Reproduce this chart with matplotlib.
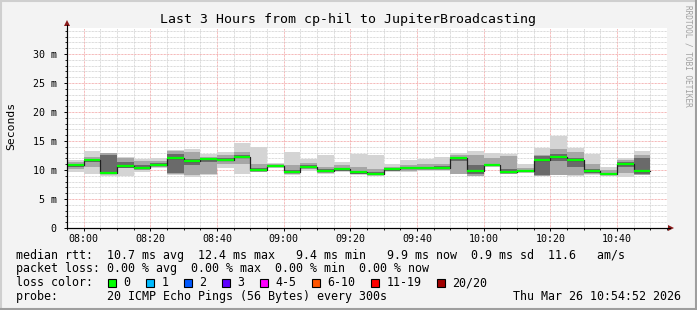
import matplotlib
matplotlib.use("Agg")
import matplotlib.pyplot as plt
from matplotlib.patches import Polygon, Rectangle
from matplotlib.ticker import FixedLocator, MultipleLocator

# ---------------- data (milliseconds, one bar per 5-minute step from 07:55) ----------------
median = [10.9, 11.7, 9.5, 10.7, 10.4, 10.9, 12.0, 11.5, 11.9, 11.8, 12.2, 10.0, 10.7, 9.6, 10.5,
          9.8, 10.1, 9.6, 9.3, 10.2, 10.4, 10.4, 10.4, 12.0, 9.8, 10.9, 9.6, 9.8, 11.8, 12.2,
          11.7, 9.8, 9.3, 11.1, 9.8]
rtt_min = [9.6, 9.3, 8.9, 8.9, 9.7, 10.4, 9.1, 8.8, 9.1, 10.3, 9.4, 9.6, 10.3, 9.2, 9.9,
           9.3, 9.6, 9.1, 8.9, 9.7, 9.7, 9.8, 9.9, 9.3, 8.9, 10.6, 9.3, 9.5, 8.9, 9.1,
           8.9, 9.1, 9.0, 8.8, 9.1]
rtt_max = [11.7, 13.2, 13.0, 12.3, 11.9, 12.1, 13.5, 13.7, 12.7, 13.1, 14.6, 13.9, 11.2, 13.1, 11.9,
           12.6, 11.3, 12.7, 12.6, 11.0, 11.7, 11.9, 12.3, 13.0, 13.2, 12.9, 12.7, 11.1, 13.8, 15.9,
           13.8, 12.7, 10.6, 12.1, 13.3]
mid_lo = [10.2, 10.5, 9.3, 10.3, 10.0, 10.6, 9.3, 9.2, 9.3, 11.0, 11.0, 9.7, 10.5, 9.4, 10.2,
          9.5, 9.8, 9.3, 9.1, 9.8, 9.9, 10.0, 10.0, 9.4, 9.0, 10.7, 9.4, 9.6, 9.0, 9.2,
          9.2, 9.3, 9.1, 9.5, 9.2]
mid_hi = [11.4, 12.2, 12.9, 12.1, 11.5, 11.6, 13.2, 13.1, 12.3, 12.6, 13.1, 11.0, 11.0, 10.8, 11.2,
          10.5, 10.8, 10.6, 10.2, 10.6, 10.9, 11.0, 11.0, 12.6, 12.6, 12.0, 12.4, 10.4, 12.6, 13.7,
          13.1, 11.1, 10.0, 11.8, 12.6]
core_lo = [10.5, 11.3, 9.5, 10.4, 10.1, 10.7, 9.5, 10.8, 11.3, 11.5, 12.0, 9.9, 10.6, 9.5, 10.4,
           9.6, 9.9, 9.4, 9.2, 9.9, 10.1, 10.2, 10.2, 11.5, 9.3, 10.8, 9.5, 9.7, 9.2, 11.5,
           10.6, 9.5, 9.2, 10.6, 9.4]
core_hi = [11.1, 11.9, 12.6, 11.4, 10.8, 11.2, 12.8, 11.9, 12.1, 12.1, 12.6, 10.3, 10.9, 10.0, 10.8,
           10.1, 10.3, 9.9, 9.6, 10.4, 10.6, 10.6, 10.7, 12.3, 10.9, 11.1, 10.2, 10.0, 12.4, 12.8,
           12.0, 10.1, 9.5, 11.4, 12.0]

step_min = 5
tick_pos_min = [5, 25, 45, 65, 85, 105, 125, 145, 165]          # minutes after 07:55
tick_labels = ["08:00", "08:20", "08:40", "09:00", "09:20", "09:40", "10:00", "10:20", "10:40"]
y_major = [0, 5, 10, 15, 20, 25, 30]
y_labels = ["0", "5 m", "10 m", "15 m", "20 m", "25 m", "30 m"]

title = "Last 3 Hours from cp-hil to JupiterBroadcasting"
legend_rtt = "median rtt:  10.7 ms avg  12.4 ms max   9.4 ms min   9.9 ms now  0.9 ms sd  11.6   am/s"
legend_loss = "packet loss: 0.00 % avg  0.00 % max  0.00 % min  0.00 % now"
loss_labels = ["0", "1", "2", "3", "4-5", "6-10", "11-19", "20/20"]
loss_colors = ["#00ff00", "#00bbff", "#0059ff", "#5e00ff", "#ff00ff", "#ff5500", "#ff0000", "#a10000"]
probe_text = "probe:       20 ICMP Echo Pings (56 Bytes) every 300s"
stamp = "Thu Mar 26 10:54:52 2026"

# ---------------- figure ----------------
W, H = 697, 310
DPI = 100
fig = plt.figure(figsize=(W / DPI, H / DPI), dpi=DPI)
fig.patch.set_facecolor("#f3f3f3")
MONO = "DejaVu Sans Mono"

def fx(px):
    return px / W

def fy(py):
    return 1 - py / H

ax = fig.add_axes([fx(67), fy(228), 600 / W, 200 / H])
ax.set_facecolor("white")
ax.set_xlim(0, 180)
ax.set_ylim(0, 34.5)

n = len(median)
xs = [i * step_min for i in range(n)]

# grid
ax.xaxis.set_major_locator(FixedLocator(tick_pos_min))
ax.xaxis.set_minor_locator(MultipleLocator(5))
ax.yaxis.set_major_locator(FixedLocator(y_major))
ax.yaxis.set_minor_locator(MultipleLocator(1))
ax.set_xticklabels(tick_labels)
ax.set_yticklabels(y_labels)
dot = (0, (0.72, 0.72))
ax.grid(which="minor", color="#cfcfcf", linestyle=dot, linewidth=0.72)
ax.grid(which="major", color="#f2a0a0", linestyle=dot, linewidth=0.72)
ax.set_axisbelow(True)

# smoke
def band(lo, hi, color):
    ax.bar(xs, [h - l for l, h in zip(lo, hi)], bottom=lo, width=step_min, align="edge",
           color=color, linewidth=0, zorder=2)

band(rtt_min, rtt_max, "#d4d4d4")
band(mid_lo, mid_hi, "#a6a6a6")
band(core_lo, core_hi, "#6a6a6a")

# median line: black steps + green level segments
step_x = xs + [n * step_min]
step_y = median + [median[-1]]
ax.step(step_x, step_y, where="post", color="#202020", linewidth=0.9, zorder=3)
ax.hlines(median, xs, [x + step_min for x in xs], colors="#00ff00", linewidth=1.6, zorder=4)

# axes styling
for s in ("top", "right"):
    ax.spines[s].set_visible(False)
for s in ("left", "bottom"):
    ax.spines[s].set_color("#000000")
    ax.spines[s].set_linewidth(0.8)
ax.tick_params(which="major", direction="out", length=2.5, width=0.7, color="#000000",
               labelsize=7.2, pad=2)
ax.tick_params(which="minor", direction="out", length=1.5, width=0.6, color="#000000")
ax.tick_params(axis="y", which="major", pad=5)
for lab in ax.get_xticklabels() + ax.get_yticklabels():
    lab.set_fontfamily(MONO)
    lab.set_color("#000000")

# axis extensions and arrows
fig.add_artist(plt.Line2D([fx(67), fx(67)], [fy(228), fy(25)], color="#000000", linewidth=0.8))
fig.add_artist(plt.Line2D([fx(67), fx(670)], [fy(228), fy(228)], color="#000000", linewidth=0.8))
fig.add_artist(Polygon([[fx(64), fy(26)], [fx(70), fy(26)], [fx(67), fy(20)]], closed=True,
                       facecolor="#8b1a1a", edgecolor="none", transform=fig.transFigure))
fig.add_artist(Polygon([[fx(668), fy(225)], [fx(668), fy(231)], [fx(674), fy(228)]], closed=True,
                       facecolor="#8b1a1a", edgecolor="none", transform=fig.transFigure))

# texts
fig.text(fx(348), fy(19), title, ha="center", va="center", fontsize=9.5, family=MONO, color="#000000")
fig.text(fx(11), fy(126), "Seconds", ha="center", va="center", rotation=90, fontsize=8.2,
         family=MONO, color="#000000")
fig.text(fx(688), fy(5), "RRDTOOL / TOBI OETIKER", ha="center", va="top", rotation=270,
         fontsize=5.6, family=MONO, color="#a0a0a0")

fs = 8.35
fig.text(fx(16), fy(255), legend_rtt, ha="left", va="center", fontsize=fs, family=MONO)
fig.text(fx(16), fy(268.5), legend_loss, ha="left", va="center", fontsize=fs, family=MONO)
fig.text(fx(16), fy(282.5), "loss color:", ha="left", va="center", fontsize=fs, family=MONO)
cw = 6.97
bx = 108.0
for lab, col in zip(loss_labels, loss_colors):
    fig.add_artist(Rectangle((fx(bx), fy(286.5)), 8 / W, 8 / H, facecolor=col, edgecolor="#000000",
                             linewidth=0.8, transform=fig.transFigure))
    fig.text(fx(bx + 15.5), fy(282.5), lab, ha="left", va="center", fontsize=fs, family=MONO)
    bx = bx + 15.5 + cw * len(lab) + 15.5
fig.text(fx(16), fy(296.5), probe_text, ha="left", va="center", fontsize=fs, family=MONO)
fig.text(fx(681), fy(296.5), stamp, ha="right", va="center", fontsize=fs, family=MONO)

# frame
fig.add_artist(plt.Line2D([0, 1], [fy(0.5), fy(0.5)], color="#cfcfcf", linewidth=1.5))
fig.add_artist(plt.Line2D([fx(0.5), fx(0.5)], [0, 1], color="#cfcfcf", linewidth=1.5))
fig.add_artist(plt.Line2D([0, 1], [fy(309), fy(309)], color="#9e9e9e", linewidth=1.5))
fig.add_artist(plt.Line2D([fx(696), fx(696)], [0, 1], color="#9e9e9e", linewidth=1.5))

fig.savefig("out.png", dpi=DPI, facecolor=fig.get_facecolor())
